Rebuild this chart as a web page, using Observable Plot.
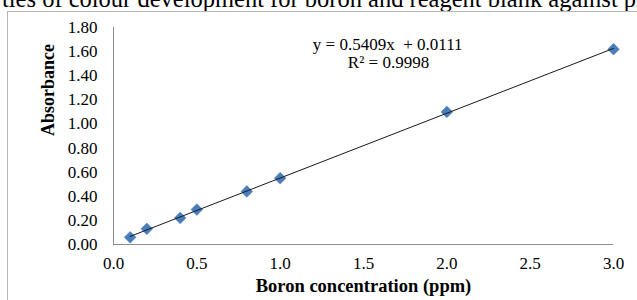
<!DOCTYPE html>
<html>
<head>
<meta charset="utf-8">
<script src="https://cdn.jsdelivr.net/npm/d3@7"></script>
<script src="https://cdn.jsdelivr.net/npm/@observablehq/plot@0.6"></script>
<style>
  html, body { margin: 0; padding: 0; background: #fff; }
  #wrap { position: relative; width: 637px; height: 300px; overflow: hidden; background: #fff; }
  #cap { position: absolute; left: 2px; top: -15px; white-space: nowrap; line-height: 28px;
         font-family: "Liberation Serif", serif; font-size: 24.5px; color: #000; }
  #frame { position: absolute; left: 7px; top: 11px; width: 700px; height: 400px;
           border-left: 1px solid #b8b8b8; border-top: 1px solid #b8b8b8; }
  #chart { position: absolute; left: 0; top: 0; }
</style>
</head>
<body>
<div id="wrap">
  <div id="cap">ties of colour development for boron and reagent blank against pH</div>
  <div id="frame"></div>
  <div id="chart"></div>
</div>
<script>
const concentration = [0.1, 0.2, 0.4, 0.5, 0.8, 1.0, 2.0, 3.0];
const absorbance = [0.06, 0.13, 0.22, 0.29, 0.44, 0.55, 1.10, 1.62];
const xTicks = [0, 0.5, 1.0, 1.5, 2.0, 2.5, 3.0];
const yTicks = [0, 0.2, 0.4, 0.6, 0.8, 1.0, 1.2, 1.4, 1.6, 1.8];
const equationLines = ["y = 0.5409x  + 0.0111", "R² = 0.9998"];
const equationPos = [{x: 1.645, y: 1.655}, {x: 1.65, y: 1.507}];

const data = concentration.map((c, i) => ({x: c, y: absorbance[i]}));
const eq = equationLines.map((t, i) => ({text: t, ...equationPos[i]}));

const font = "Liberation Serif, Times New Roman, serif";

const chart = Plot.plot({
  width: 637,
  height: 300,
  marginLeft: 113,
  marginRight: 24,
  marginTop: 27,
  marginBottom: 56,
  style: {fontFamily: font, fontSize: "17px", color: "#000", background: "transparent"},
  x: {domain: [0, 3], ticks: xTicks, tickFormat: d3.format(".1f"), label: null},
  y: {domain: [0, 1.8], ticks: yTicks, tickFormat: d3.format(".2f"), label: null},
  marks: [
    Plot.ruleX([0], {stroke: "#8c8c8c"}),
    Plot.ruleY([0], {stroke: "#8c8c8c"}),
    Plot.axisY({ticks: yTicks, tickFormat: d3.format(".2f"), tickSize: 0, tickPadding: 16, fontSize: 17, label: null}),
    Plot.axisX({ticks: xTicks, tickFormat: d3.format(".1f"), tickSize: 0, tickPadding: 12, fontSize: 17, label: null}),
    Plot.dot(data, {x: "x", y: "y", symbol: "diamond2", r: 5.3, fill: "#4a7ebb", stroke: "#4a7ebb", strokeWidth: 0.5}),
    Plot.linearRegressionY(data, {x: "x", y: "y", stroke: "#1a1a1a", strokeWidth: 1, ci: 0}),
    Plot.text(eq, {x: "x", y: "y", text: "text", fontSize: 17, fill: "#000"}),
    Plot.text(["Absorbance"], {frameAnchor: "left", dx: -65, rotate: -90, fontWeight: "bold", fontSize: 18, fill: "#000"}),
    Plot.text(["Boron concentration (ppm)"], {frameAnchor: "bottom", dy: 47, fontWeight: "bold", fontSize: 18.5, fill: "#000"})
  ]
});
document.getElementById("chart").appendChild(chart);
</script>
</body>
</html>
